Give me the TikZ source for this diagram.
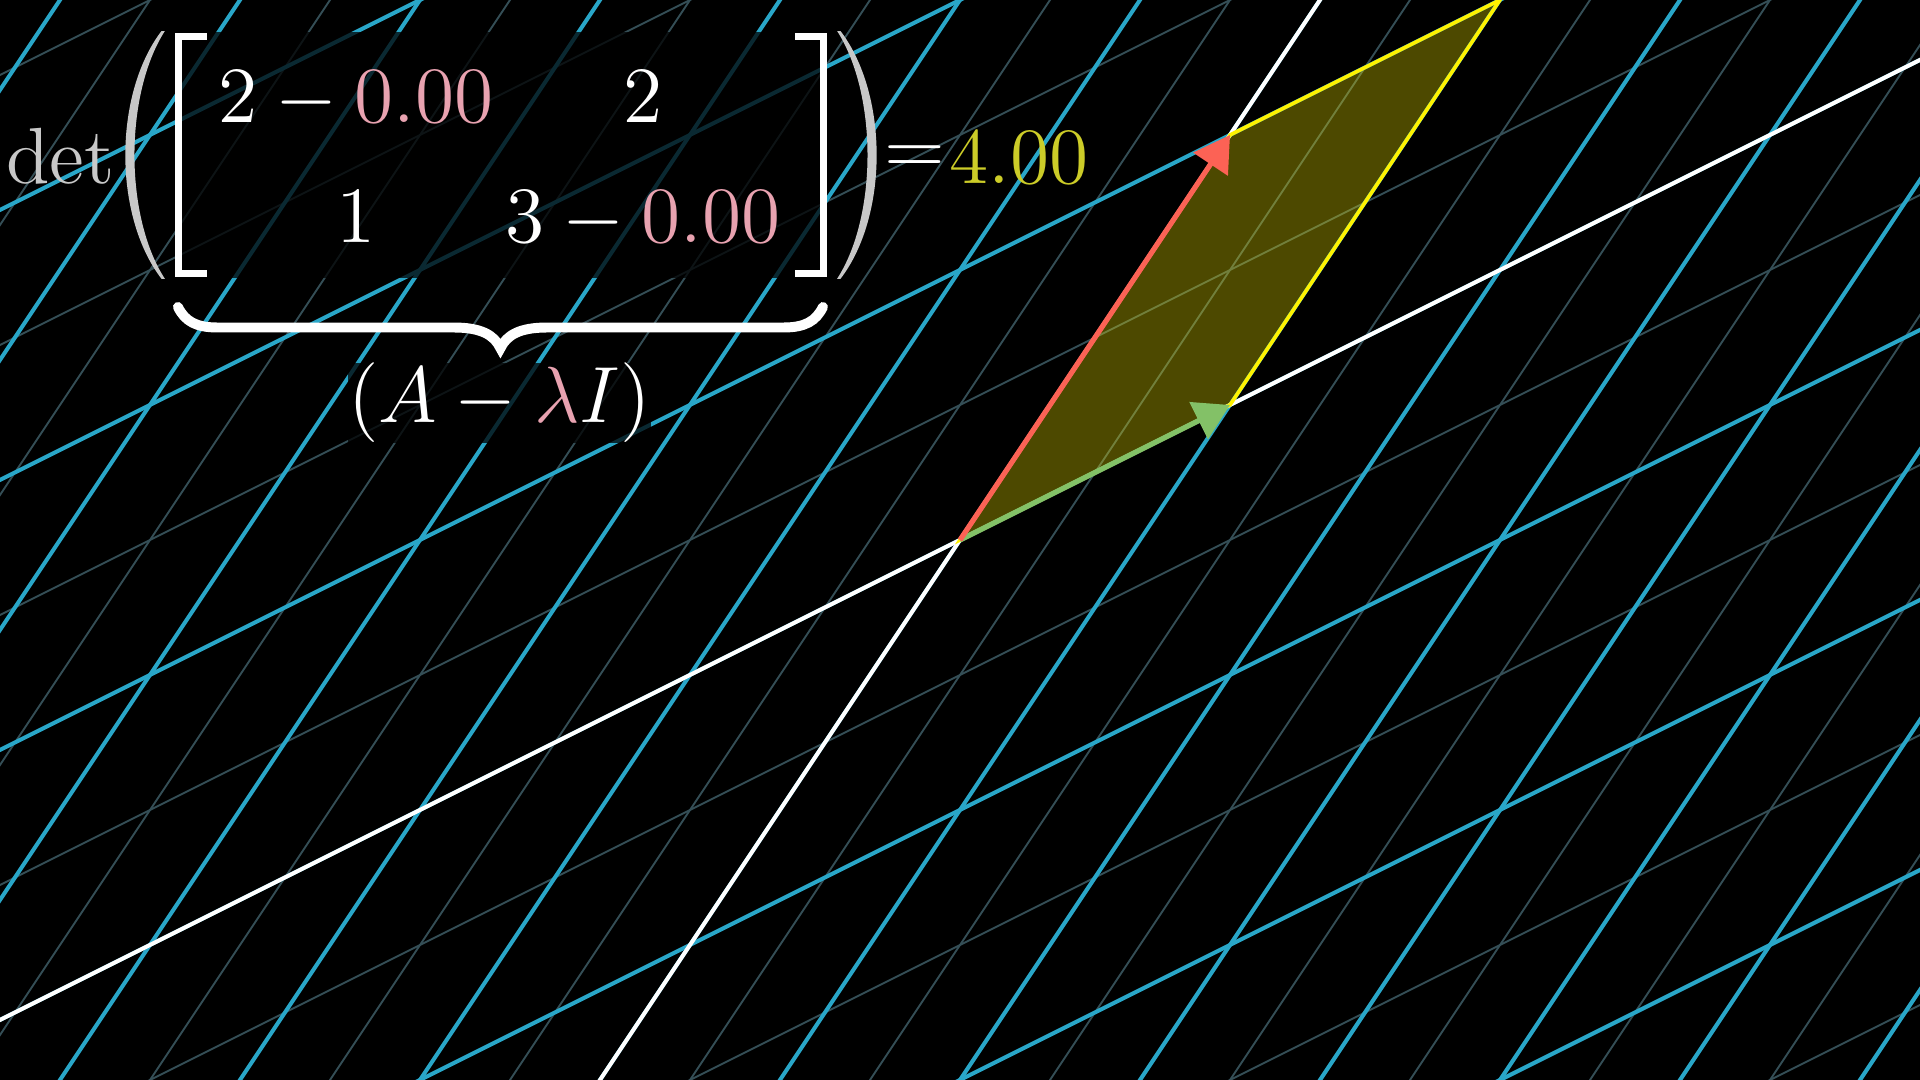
\RequirePackage{fix-cm}
\documentclass[tikz,border=0pt]{standalone}
\usetikzlibrary{arrows.meta}
\definecolor{gridblue}{RGB}{41,166,200}
\definecolor{faintline}{RGB}{52,78,86}
\definecolor{vecred}{RGB}{252,98,85}
\definecolor{vecgreen}{RGB}{131,193,103}
\definecolor{lampink}{RGB}{232,162,176}
\definecolor{detyellow}{RGB}{204,204,40}
\definecolor{detgray}{RGB}{200,200,200}

\begin{document}
\begin{tikzpicture}[
    gridline/.style={gridblue, line width=0.85pt},
    subline/.style={faintline, line width=0.4pt},
    axisline/.style={white, line width=0.85pt},
    vec/.style={line width=1.1pt, -{Triangle[length=0.26cm, width=0.3cm]}},
    bigtext/.style={white, font=\fontsize{16.8}{20}\selectfont, inner sep=0pt, anchor=base},
    dimbox/.style={fill=black, fill opacity=0.75, text opacity=1}
]
    % Frame
    \fill[black] (-7.1111,-4) rectangle (7.1111,4);
    \useasboundingbox (-7.1111,-4) rectangle (7.1111,4);

    % Transformed grid, columns (2,1) and (2,3)
    \begin{scope}
        \clip (-7.1111,-4) rectangle (7.1111,4);
        \begin{scope}[cm={2,1,2,3,(0,0)}]
            \foreach \k in {-8.5,-7.5,...,8.5} \draw[subline] (\k,-5) -- (\k,5);
            \foreach \k in {-4.5,-3.5,...,4.5} \draw[subline] (-9,\k) -- (9,\k);
            \foreach \k in {-8,...,8} \draw[gridline] (\k,-5) -- (\k,5);
            \foreach \k in {-4,...,4} \draw[gridline] (-9,\k) -- (9,\k);
            \draw[axisline] (0,-5) -- (0,5);
            \draw[axisline] (-9,0) -- (9,0);
        \end{scope}
    \end{scope}

    % Parallelogram spanned by the columns
    \coordinate (O) at (0,0);
    \coordinate (Ihat) at (2,1);
    \coordinate (Jhat) at (2,3);
    \coordinate (Corner) at (4,4);
    \filldraw[yellow, fill opacity=0.3, line width=0.75pt] (O) -- (Ihat) -- (Corner) -- (Jhat) -- cycle;
    \draw[vec, vecgreen] (O) -- (Ihat);
    \draw[vec, vecred] (O) -- (Jhat);

    % Dimmed backdrop of the matrix
    \fill[dimbox] (-5.815,1.941) rectangle (-0.985,3.763);

    % det ( [ ... ] ) = 4.00
    \node[bigtext, detgray] (det) at (-6.664,2.644) {$\det$};
    \fill[detgray] (-5.915,3.770) .. controls (-6.272,3.30) and (-6.272,2.40) .. (-5.915,1.935)
        -- (-5.890,1.935) .. controls (-6.190,2.40) and (-6.190,3.30) .. (-5.890,3.770) -- cycle;
    \fill[detgray] (-0.885,3.770) .. controls (-0.528,3.30) and (-0.528,2.40) .. (-0.885,1.935)
        -- (-0.910,1.935) .. controls (-0.610,2.40) and (-0.610,3.30) .. (-0.910,3.770) -- cycle;
    \draw[white, line width=1.5pt] (-5.578,3.730) -- (-5.789,3.730) -- (-5.789,1.974) -- (-5.578,1.974);
    \draw[white, line width=1.5pt] (-1.222,3.730) -- (-1.011,3.730) -- (-1.011,1.974) -- (-1.222,1.974);

    \node[bigtext] (a11) at (-4.474,3.096) {$2-\textcolor{lampink}{0.00}$};
    \node[bigtext] (a12) at (-2.348,3.096) {$2$};
    \node[bigtext] (a21) at (-4.474,2.200) {$1$};
    \node[bigtext] (a22) at (-2.348,2.200) {$3-\textcolor{lampink}{0.00}$};

    \node[bigtext] (eq) at (-0.337,2.71) {$=$};
    \node[bigtext, detyellow] (val) at (0.437,2.644) {$4.00$};

    % Brace and label
    \draw[white, line width=2.1pt, line cap=round] (-5.793,1.726) .. controls (-5.74,1.62) and (-5.66,1.574) .. (-5.50,1.574)
        -- (-3.75,1.574) .. controls (-3.55,1.574) and (-3.45,1.52) .. (-3.404,1.42)
        .. controls (-3.358,1.52) and (-3.258,1.574) .. (-3.058,1.574)
        -- (-1.308,1.574) .. controls (-1.148,1.574) and (-1.068,1.62) .. (-1.015,1.726);
    \node[bigtext, dimbox] (label) at (-3.411,0.867) {$(A-\textcolor{lampink}{\lambda}I)$};
\end{tikzpicture}
\end{document}
